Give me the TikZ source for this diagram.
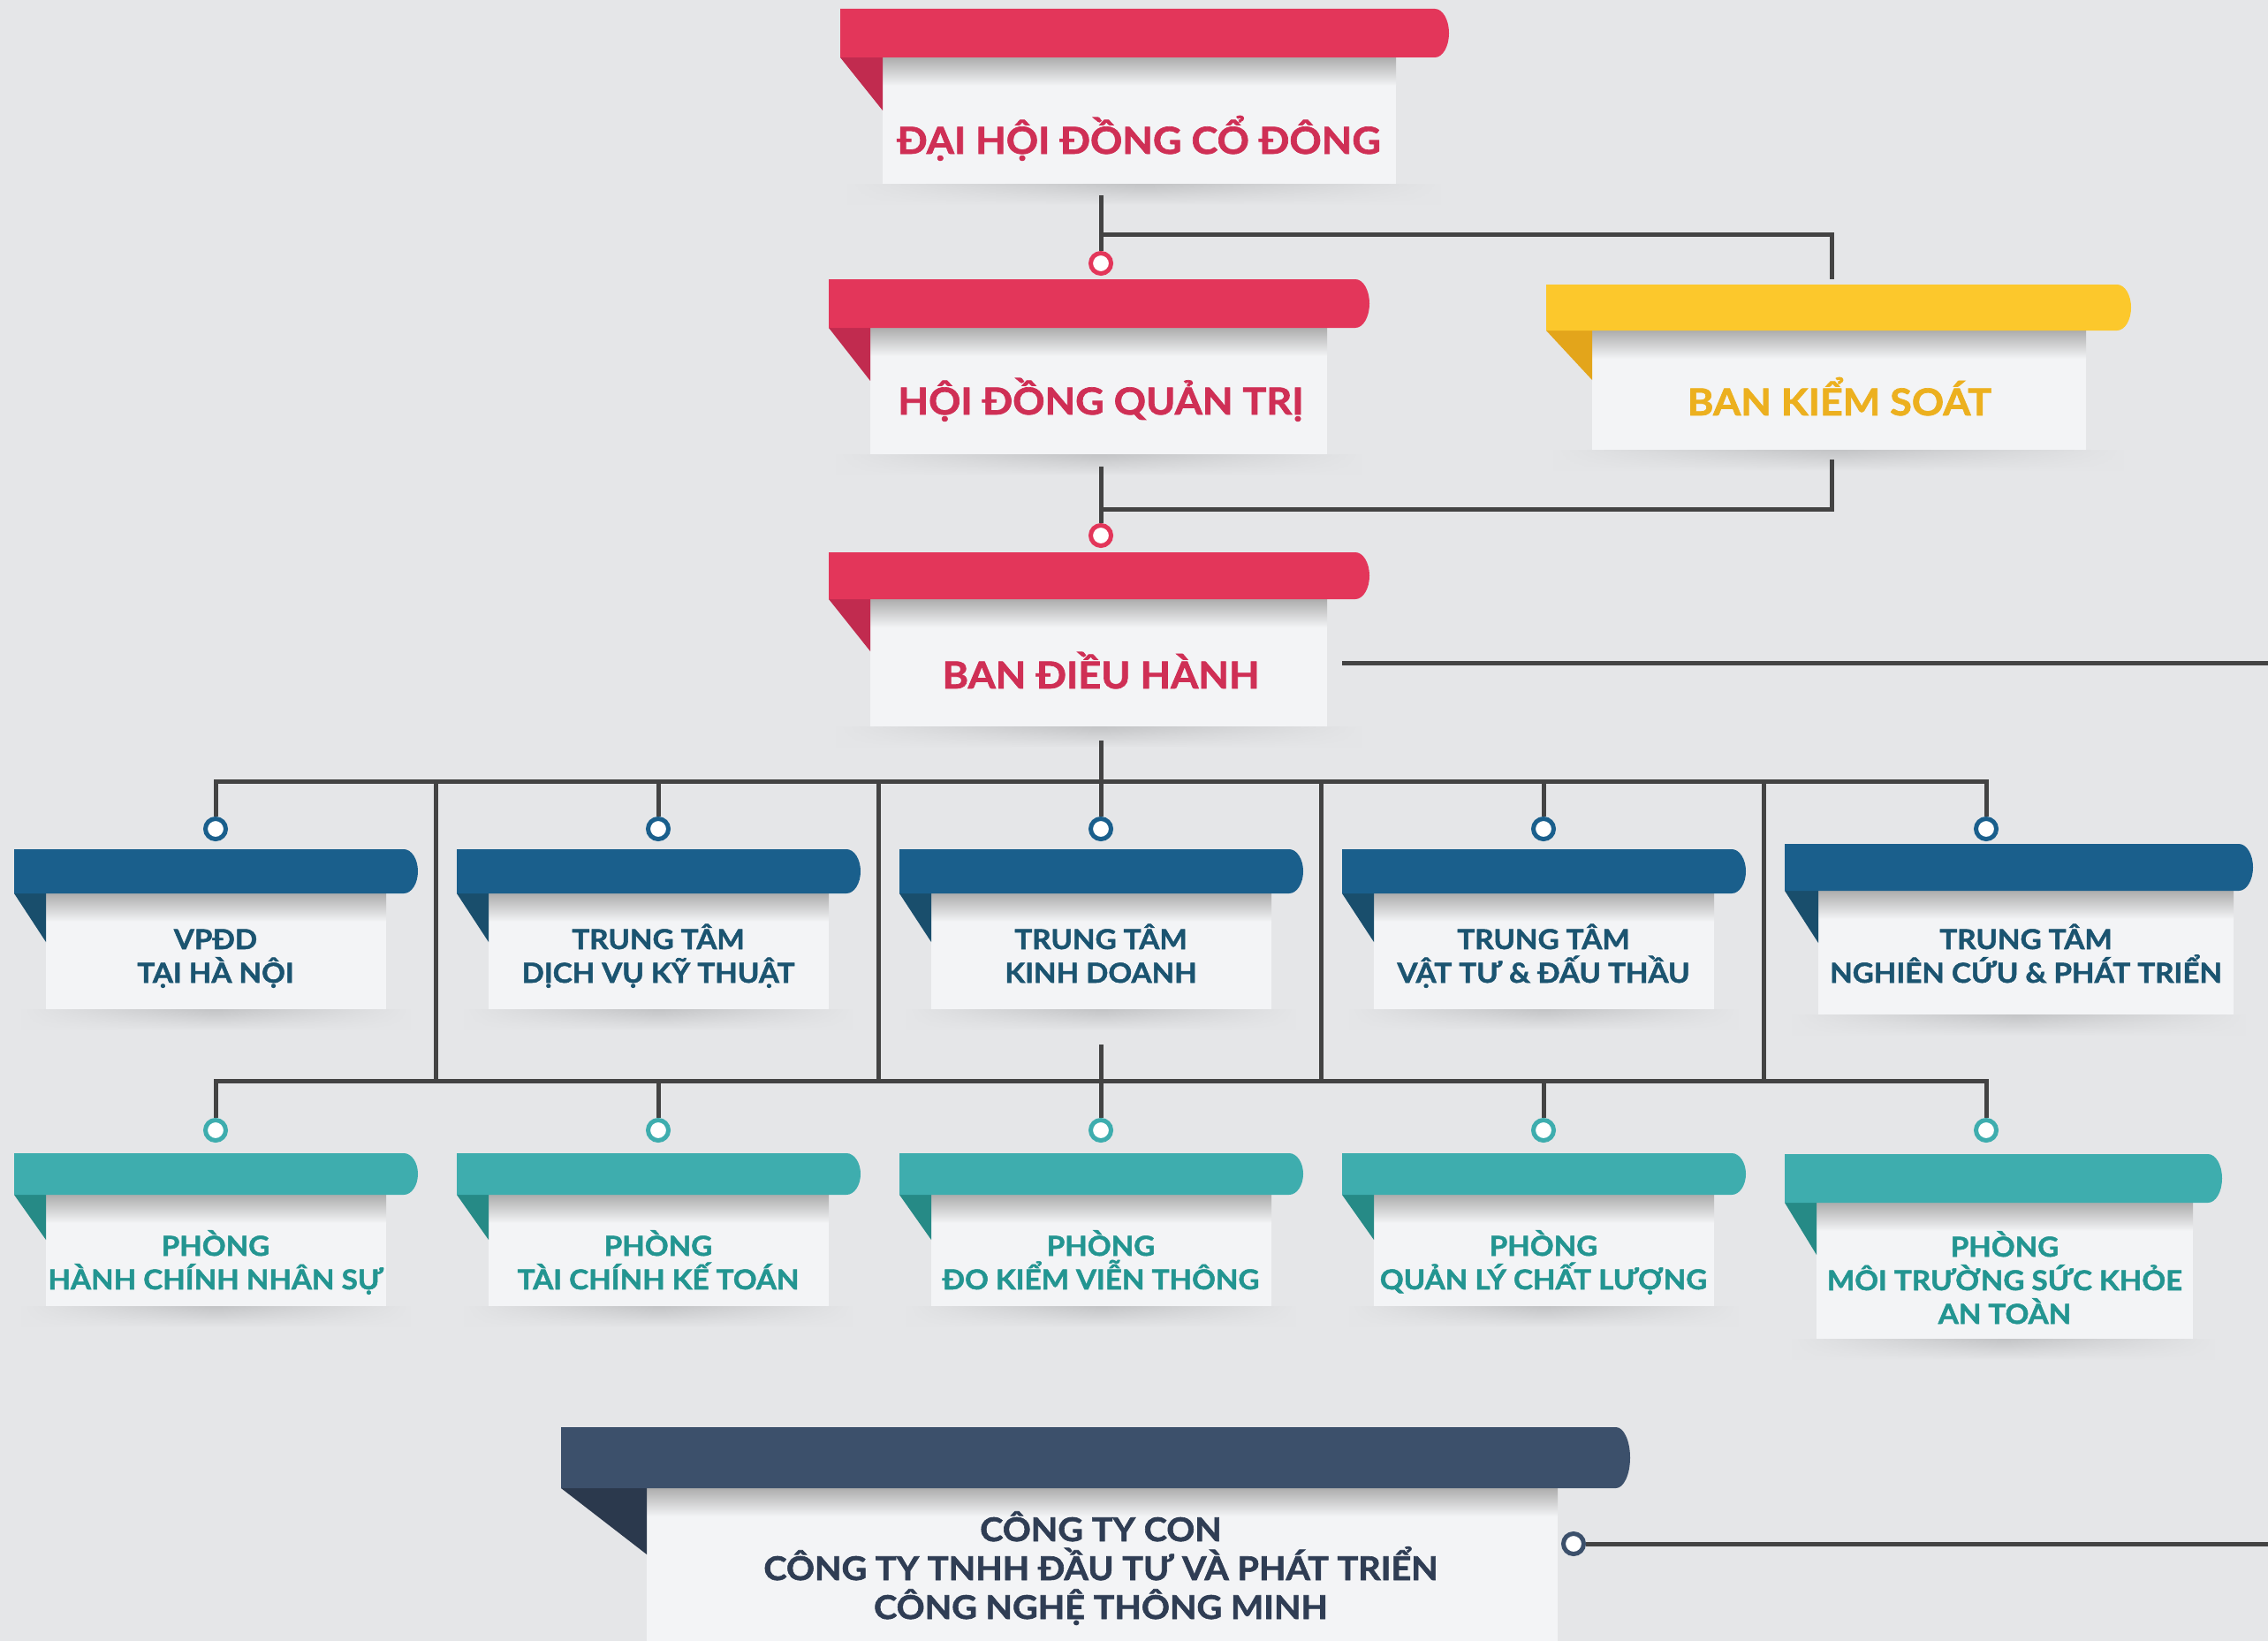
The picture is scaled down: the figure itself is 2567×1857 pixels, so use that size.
\documentclass[tikz,border=0pt]{standalone}
\usepackage{fontspec}
\setmainfont{Lato}[BoldFeatures={FakeBold=1.6,FakeStretch=1.07}]
\usetikzlibrary{fadings}
\definecolor{bgc}{HTML}{E5E6E8}
\definecolor{boxc}{HTML}{F3F4F6}
\definecolor{linec}{HTML}{434343}
\definecolor{shadowc}{HTML}{ADADAD}
\definecolor{dropc}{HTML}{C3C4C6}
\definecolor{redbar}{HTML}{E3365A}
\definecolor{redfold}{HTML}{C12B4F}
\definecolor{redtext}{HTML}{CF2F55}
\definecolor{yelbar}{HTML}{FCC82C}
\definecolor{yelfold}{HTML}{E3A51B}
\definecolor{yeltext}{HTML}{ECB01F}
\definecolor{bluebar}{HTML}{1A5F8C}
\definecolor{bluefold}{HTML}{194E6C}
\definecolor{bluetext}{HTML}{1B5470}
\definecolor{tealbar}{HTML}{3EADAE}
\definecolor{tealfold}{HTML}{268A86}
\definecolor{tealtext}{HTML}{239591}
\definecolor{navybar}{HTML}{3C506B}
\definecolor{navyfold}{HTML}{2B394D}
\definecolor{navytext}{HTML}{2F3D54}
\tikzfading[name=hfade, left color=transparent!100, right color=transparent!100, middle color=transparent!0]
\newcommand\scheme{red}
% name, barL, barT, barR, barB, boxL, boxR, boxB, foldY
\newcommand\ribbon[9]{%
  \shade[top color=dropc, bottom color=bgc, path fading=hfade] (#2+8,#8) rectangle (#4-8,#8+24);
  \node[wbox, minimum width={(#7)-(#6)}, minimum height={(#8)-(#5)}] (#1) at (#6,#5) {};
  \shade[top color=shadowc, bottom color=boxc] (#6,#5) rectangle (#7,#5+32);
  \fill[\scheme fold] (#2,#5) -- (#6,#5) -- (#6,#9) -- cycle;
  \fill[\scheme bar] (#2,#3) -- (#4-16,#3) arc[start angle=-90,end angle=90,x radius=16,y radius={((#5)-(#3))/2}] -- (#2,#5) -- cycle;
}
\begin{document}
\begin{tikzpicture}[x=1pt,y=-1pt,
  wbox/.style={fill=boxc, inner sep=0pt, outer sep=0pt, anchor=north west, draw=none},
  ttl/.style={font=\fontsize{42}{50}\selectfont\bfseries, anchor=base, inner sep=0pt},
  sub/.style={font=\fontsize{31}{38}\selectfont\bfseries, align=center, anchor=base, inner sep=0pt},
  navyt/.style={font=\fontsize{37}{44}\selectfont\bfseries, align=center, anchor=base, inner sep=0pt},
  conn/.style={draw=linec, line width=5pt, line join=miter},
  dot/.style={circle, draw=#1, fill=white, line width=5pt, minimum size=23pt, inner sep=0pt}]
\useasboundingbox (0,0) rectangle (2567,1857);
\fill[bgc] (0,0) rectangle (2567,1857);

% ---------- red / yellow ----------
\renewcommand\scheme{red}
\ribbon{dhd}{951}{10}{1640}{65}{999}{1580}{208}{125}
\node[ttl, text=redtext] (dhd-t) at (1289,174) {ĐẠI HỘI ĐỒNG CỔ ĐÔNG};
\ribbon{hdqt}{938}{316}{1550}{371}{985}{1502}{514}{431}
\node[ttl, text=redtext] (hdqt-t) at (1246,469) {HỘI ĐỒNG QUẢN TRỊ};
\ribbon{bdh}{938}{625}{1550}{678}{985}{1502}{822}{737}
\node[ttl, text=redtext] (bdh-t) at (1246,779) {BAN ĐIỀU HÀNH};
\renewcommand\scheme{yel}
\ribbon{bks}{1750}{322}{2412}{374}{1802}{2361}{509}{430}
\node[ttl, text=yeltext] (bks-t) at (2082,470) {BAN KIỂM SOÁT};

% ---------- blue (anchor = baseline of last line) ----------
\renewcommand\scheme{blue}
\ribbon{u1}{16}{961}{473}{1011}{52}{437}{1142}{1066}
\node[sub, text=bluetext] (u1-t) at (244,1112) {VPĐD\\TẠI HÀ NỘI};
\ribbon{u2}{517}{961}{974}{1011}{553}{938}{1142}{1066}
\node[sub, text=bluetext] (u2-t) at (745,1112) {TRUNG TÂM\\DỊCH VỤ KỸ THUẬT};
\ribbon{u3}{1018}{961}{1475}{1011}{1054}{1439}{1142}{1066}
\node[sub, text=bluetext] (u3-t) at (1246,1112) {TRUNG TÂM\\KINH DOANH};
\ribbon{u4}{1519}{961}{1976}{1011}{1555}{1940}{1142}{1066}
\node[sub, text=bluetext] (u4-t) at (1747,1112) {TRUNG TÂM\\VẬT TƯ \& ĐẤU THẦU};
\ribbon{u5}{2020}{955}{2550}{1008}{2058}{2528}{1148}{1067}
\node[sub, text=bluetext] (u5-t) at (2293,1112) {TRUNG TÂM\\NGHIÊN CỨU \& PHÁT TRIỂN};

% ---------- teal ----------
\renewcommand\scheme{teal}
\ribbon{p1}{16}{1305}{473}{1352}{52}{437}{1478}{1403}
\node[sub, text=tealtext] (p1-t) at (244,1459) {PHÒNG\\HÀNH CHÍNH NHÂN SỰ};
\ribbon{p2}{517}{1305}{974}{1352}{553}{938}{1478}{1403}
\node[sub, text=tealtext] (p2-t) at (745,1459) {PHÒNG\\TÀI CHÍNH KẾ TOÁN};
\ribbon{p3}{1018}{1305}{1475}{1352}{1054}{1439}{1478}{1403}
\node[sub, text=tealtext] (p3-t) at (1246,1459) {PHÒNG\\ĐO KIỂM VIỄN THÔNG};
\ribbon{p4}{1519}{1305}{1976}{1352}{1555}{1940}{1478}{1403}
\node[sub, text=tealtext] (p4-t) at (1747,1459) {PHÒNG\\QUẢN LÝ CHẤT LƯỢNG};
\ribbon{p5}{2020}{1306}{2515}{1361}{2056}{2482}{1515}{1420}
\node[sub, text=tealtext] (p5-t) at (2269,1498) {PHÒNG\\MÔI TRƯỜNG SỨC KHỎE\\AN TOÀN};

% ---------- navy ----------
\renewcommand\scheme{navy}
\ribbon{ctc}{635}{1615}{1845}{1684}{732}{1763}{1870}{1759}
\node[navyt, text=navytext] (ctc-t) at (1246,1832) {CÔNG TY CON\\CÔNG TY TNHH ĐẦU TƯ VÀ PHÁT TRIỂN\\CÔNG NGHỆ THÔNG MINH};

% ---------- connectors (on top of shadows) ----------
\coordinate (j0) at (1246,221);
\coordinate (j1) at (1246,265);
\coordinate (k1) at (2073,265);
\coordinate (k2) at (2073,316);
\coordinate (h0) at (1246,528);
\coordinate (h1) at (2073,520);
\coordinate (h2) at (2073,576);
\coordinate (h3) at (1246,576);
\coordinate (e0) at (1519,750);
\coordinate (e1) at (2567,750);
\coordinate (m0) at (1246,838);
\coordinate (m1) at (1246,884);
\coordinate (r0) at (1246,1182);
\coordinate (r1) at (1246,1223);
\coordinate (z1) at (2567,1747);

\node[dot=redbar] (c1) at (1246,298) {};
\node[dot=redbar] (c2) at (1246,606) {};
\foreach \i/\x in {1/244,2/745,3/1246,4/1747,5/2248}{
  \node[dot=bluebar] (b\i) at (\x,938) {};
  \node[dot=tealbar] (t\i) at (\x,1279) {};
}
\node[dot=navybar] (n1) at (1781,1747) {};

\draw[conn] (j0) -- (c1);
\draw[conn] (j1) -- (k1) -- (k2);
\draw[conn] (h0) -- (c2);
\draw[conn] (h1) -- (h2) -- (h3);
\draw[conn] (e0) -- (e1);
\draw[conn] (m0) -- (m1);
\draw[conn] (b1) -- (b1 |- m1) -- (b5 |- m1) -- (b5);
\foreach \i in {2,3,4}{\draw[conn] (b\i |- m1) -- (b\i);}
\foreach \x in {493,994,1495,1996}{\draw[conn] (\x,884) -- (\x,1223);}
\draw[conn] (r0) -- (r1);
\draw[conn] (t1) -- (t1 |- r1) -- (t5 |- r1) -- (t5);
\foreach \i in {2,3,4}{\draw[conn] (t\i |- r1) -- (t\i);}
\draw[conn] (n1) -- (z1);
\end{tikzpicture}
\end{document}
